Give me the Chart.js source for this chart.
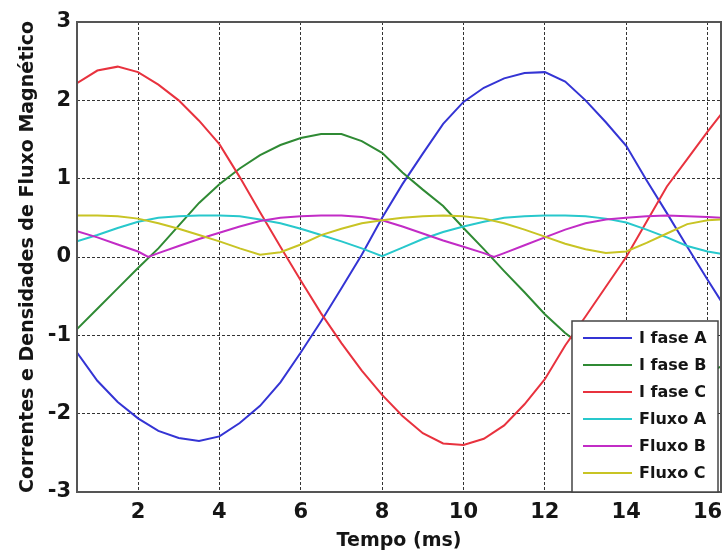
<!DOCTYPE html>
<html><head><meta charset="utf-8">
<script src="https://cdn.jsdelivr.net/npm/chart.js@4.4.0/dist/chart.umd.min.js"></script>
<style>html,body{margin:0;padding:0;background:#fff;} #wrap{width:725px;height:559px;}</style>
</head><body><div id="wrap"><canvas id="c" width="725" height="559"></canvas></div>
<script>
// Time axis (ms)
const tempo = [0.5,1,1.5,2,2.5,3,3.5,4,4.5,5,5.5,6,6.5,7,7.5,8,8.5,9,9.5,10,10.5,11,11.5,12,12.5,13,13.5,14,14.5,15,15.5,16,16.33];
const tempoFluxoB = [0.5,1,1.5,2,2.25,2.5,3,3.5,4,4.5,5,5.5,6,6.5,7,7.5,8,8.5,9,9.5,10,10.5,10.75,11,11.5,12,12.5,13,13.5,14,14.5,15,15.5,16,16.33];

const iFaseA = [-1.22,-1.58,-1.85,-2.06,-2.22,-2.31,-2.35,-2.29,-2.12,-1.9,-1.6,-1.22,-0.82,-0.4,0.03,0.5,0.93,1.32,1.7,1.98,2.16,2.28,2.35,2.36,2.24,2.0,1.72,1.42,0.98,0.56,0.13,-0.29,-0.56];
const iFaseB = [-0.92,-0.66,-0.4,-0.14,0.11,0.4,0.69,0.93,1.13,1.3,1.43,1.52,1.57,1.57,1.48,1.33,1.08,0.86,0.65,0.37,0.1,-0.18,-0.45,-0.73,-0.97,-1.17,-1.35,-1.47,-1.55,-1.58,-1.55,-1.47,-1.4];
const iFaseC = [2.22,2.38,2.43,2.36,2.2,2.0,1.74,1.44,1.02,0.57,0.13,-0.3,-0.72,-1.1,-1.45,-1.76,-2.03,-2.25,-2.38,-2.4,-2.32,-2.15,-1.88,-1.56,-1.13,-0.76,-0.38,0.0,0.45,0.9,1.25,1.6,1.82];
const fluxoA = [0.2,0.28,0.37,0.45,0.5,0.52,0.53,0.53,0.52,0.48,0.43,0.36,0.28,0.2,0.11,0.01,0.12,0.23,0.32,0.39,0.45,0.5,0.52,0.53,0.53,0.52,0.49,0.44,0.35,0.25,0.14,0.07,0.04];
const fluxoB = [0.33,0.25,0.16,0.07,0.0,0.05,0.14,0.23,0.31,0.39,0.46,0.5,0.52,0.53,0.53,0.51,0.47,0.39,0.3,0.21,0.13,0.05,0.0,0.05,0.15,0.25,0.35,0.43,0.48,0.5,0.52,0.53,0.52,0.51,0.5];
const fluxoC = [0.53,0.53,0.52,0.49,0.43,0.36,0.28,0.2,0.11,0.03,0.06,0.16,0.28,0.36,0.43,0.47,0.5,0.52,0.53,0.52,0.49,0.43,0.35,0.26,0.17,0.1,0.05,0.07,0.18,0.3,0.42,0.47,0.48];

const xTicks = [2,4,6,8,10,12,14,16];
const yTicks = [-3,-2,-1,0,1,2,3];
const seriesLabels = ['I fase A','I fase B','I fase C','Fluxo A','Fluxo B','Fluxo C'];
const seriesColors = ['#3434d4','#2f8a34','#e8323e','#28c8cc','#c22cc6','#c8c424'];

const pts = (xs, ys) => xs.map((x, i) => ({x: x, y: ys[i]}));
const seriesData = [pts(tempo,iFaseA), pts(tempo,iFaseB), pts(tempo,iFaseC), pts(tempo,fluxoA), pts(tempoFluxoB,fluxoB), pts(tempo,fluxoC)];

const FONT = "'DejaVu Sans', sans-serif";

const boxPlugin = {
  id: 'boxLegend',
  afterDatasetsDraw(chart) {
    const {ctx, chartArea: a} = chart;
    ctx.save();
    ctx.strokeStyle = '#555'; ctx.lineWidth = 2;
    ctx.strokeRect(a.left, a.top, a.right - a.left, a.bottom - a.top);
    const w = 146, h = 171;
    const x0 = a.right - 3 - w, y0 = a.bottom - h;
    ctx.fillStyle = '#fff'; ctx.fillRect(x0, y0, w, h);
    ctx.strokeStyle = '#444'; ctx.lineWidth = 1.5; ctx.strokeRect(x0, y0, w, h);
    ctx.font = 'bold 16px ' + FONT; ctx.textBaseline = 'middle'; ctx.textAlign = 'left';
    chart.data.datasets.forEach((ds, i) => {
      const y = y0 + 17 + i * 27;
      ctx.strokeStyle = ds.borderColor; ctx.lineWidth = 2;
      ctx.beginPath(); ctx.moveTo(x0 + 11, y); ctx.lineTo(x0 + 60, y); ctx.stroke();
      ctx.fillStyle = '#151515';
      ctx.fillText(ds.label, x0 + 67, y + 1);
    });
    ctx.restore();
  }
};

const noPad = s => { s.paddingLeft = 0; s.paddingRight = 0; s.paddingTop = 0; s.paddingBottom = 0; };

new Chart(document.getElementById('c'), {
  type: 'line',
  data: {
    datasets: seriesLabels.map((lab, i) => ({
      label: lab, data: seriesData[i], borderColor: seriesColors[i],
      backgroundColor: seriesColors[i], borderWidth: 2, pointRadius: 0,
      tension: 0, fill: false, order: seriesLabels.length - i
    }))
  },
  options: {
    responsive: false, animation: false,
    layout: { padding: { top: 22, right: 4, left: 0, bottom: 0 } },
    plugins: { legend: { display: false }, tooltip: { enabled: false } },
    scales: {
      x: {
        type: 'linear', min: 0.5, max: 16.33,
        afterBuildTicks: s => { s.ticks = xTicks.map(v => ({value: v})); },
        afterFit: s => { s.height = 67; noPad(s); },
        grid: { color: '#333', lineWidth: 1, drawTicks: false },
        border: { display: false, dash: [3, 2] },
        ticks: { font: { family: FONT, size: 21, weight: 'bold' }, color: '#151515', padding: 8, maxRotation: 0, autoSkip: false },
        title: { display: true, text: 'Tempo (ms)', font: { family: FONT, size: 19, weight: 'bold' }, color: '#151515', padding: { top: 0, bottom: 7 } }
      },
      y: {
        type: 'linear', min: -3, max: 3,
        afterBuildTicks: s => { s.ticks = yTicks.map(v => ({value: v})); },
        afterFit: s => { s.width = 77; noPad(s); },
        grid: { color: '#333', lineWidth: 1, drawTicks: false },
        border: { display: false, dash: [3, 2] },
        ticks: { font: { family: FONT, size: 21, weight: 'bold' }, color: '#151515', padding: 6 },
        title: { display: true, text: 'Correntes e Densidades de Fluxo Magnético', font: { family: FONT, size: 19, weight: 'bold' }, color: '#151515', padding: { top: 17, bottom: 0 } }
      }
    }
  },
  plugins: [boxPlugin]
});
</script>
</body></html>
